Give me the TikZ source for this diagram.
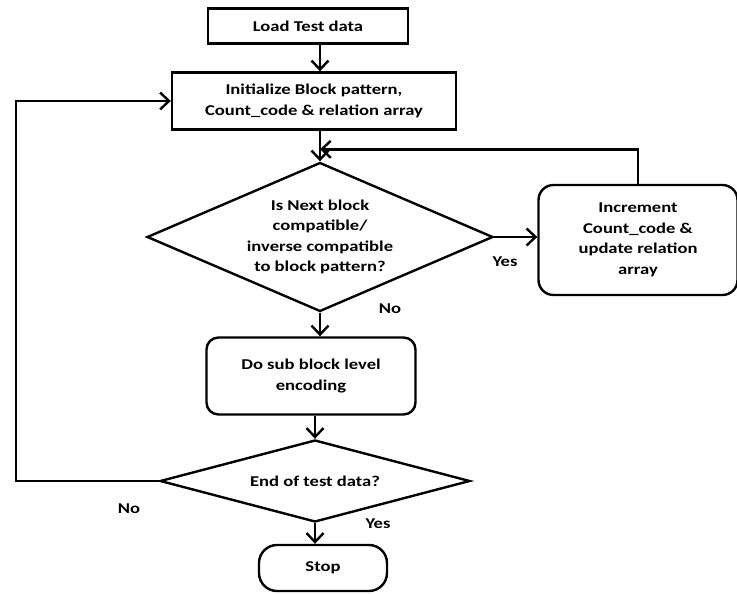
\documentclass[tikz,border=0pt]{standalone}
\usepackage{fontspec}
\setmainfont{Carlito}[FakeStretch=1.24]
\usetikzlibrary{shapes.geometric,arrows.meta,calc}

\tikzset{
  box/.style={draw, line width=2.4pt, inner sep=0pt, align=center},
  decbox/.style={draw, diamond, aspect=2.3, line width=2.4pt, inner sep=0pt, align=center},
  arr/.style={line width=2.4pt, -{Straight Barb[length=9pt,width=17pt,line width=2.4pt]}},
  lbl/.style={font=\fontsize{15}{18}\selectfont\bfseries}
}

\begin{document}
\begin{tikzpicture}[x=1pt,y=-1pt,font=\fontsize{15}{20.5}\selectfont\bfseries] %flow of block pattern encoding

\useasboundingbox (0,0) rectangle (737,594);

\node [box, minimum width=200pt, minimum height=35pt] (load) at (308,26) {Load Test data};
\node [box, minimum width=284pt, minimum height=57pt] (init) at (314,101) {Initialize Block pattern,\\Count\_code \& relation array};

\node [decbox, minimum width=346pt, minimum height=149pt] (dec1) at (320,237) {Is Next block\\compatible/\\inverse compatible\\to block pattern?};
\node [box, rounded corners=15pt, minimum width=199pt, minimum height=110pt] (inc) at (638,240) {Increment\\Count\_code \&\\update relation\\array};

\node [box, rounded corners=12pt, minimum width=209pt, minimum height=77pt] (sub) at (311,376) {Do sub block level\\encoding};
\node [decbox, minimum width=310pt, minimum height=82pt] (dec2) at (315,481) {End of test data?};
\node [box, rounded corners=18pt, minimum width=128pt, minimum height=46pt] (stop) at (323,568) {Stop};

\coordinate (noL) at (16,481);

\draw [arr] (load.south -| dec1.north) -- (dec1.north |- init.north);
\draw [arr] (init.south -| dec1.north) -- (dec1.north);
\draw [arr] (dec1.east) -- (dec1.east -| inc.west);
\draw [arr] (inc.north) |- ($(dec1.north)+(0,-12)$);
\draw [arr] (dec1.south) -- (dec1.south |- sub.north);
\draw [arr] (sub.south -| dec2.north) -- (dec2.north);
\draw [arr] (dec2.south) -- (dec2.south |- stop.north);
\draw [arr] (dec2.west) -- (noL) |- (init.west);

\node [lbl] (yes1) at (505,262) {Yes};
\node [lbl] (no1) at (390,309) {No};
\node [lbl] (no2) at (129,509) {No};
\node [lbl] (yes2) at (378,524) {Yes};

\end{tikzpicture}
\end{document}
